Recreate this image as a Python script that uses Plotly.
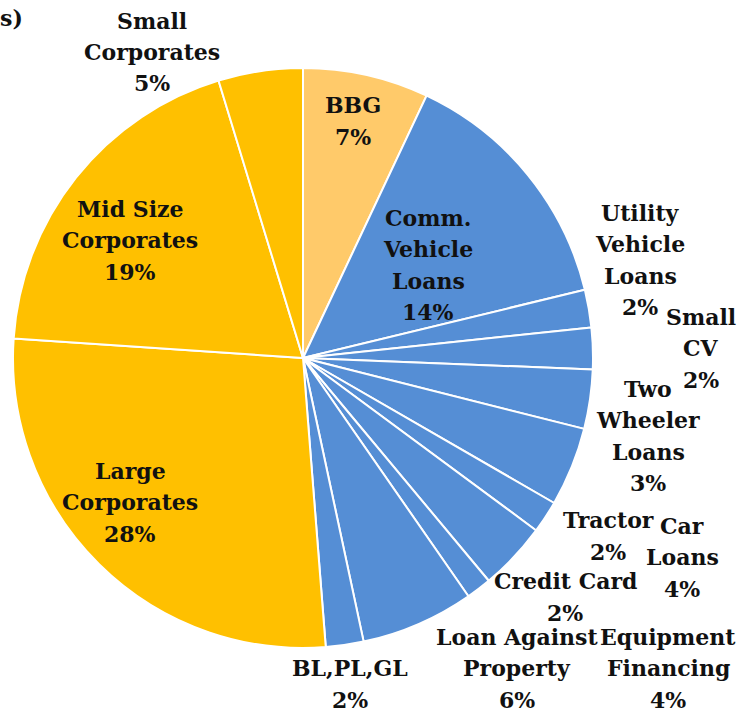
import plotly.graph_objects as go

W, H = 737, 713

# Data (clockwise from 12 o'clock)
segments = ["BBG", "Comm. Vehicle Loans", "Utility Vehicle Loans", "Small CV",
            "Two Wheeler Loans", "Car Loans", "Tractor", "Equipment Financing",
            "Credit Card", "Loan Against Property", "BL,PL,GL",
            "Large Corporates", "Mid Size Corporates", "Small Corporates"]
shares = [7.0, 14.2, 2.1, 2.3, 3.3, 4.4, 1.8, 3.8, 1.4, 6.3, 2.1, 27.3, 19.2, 4.7]
pct_labels = ["7%", "14%", "2%", "2%", "3%", "4%", "2%", "4%", "2%", "6%", "2%",
              "28%", "19%", "5%"]
label_lines = [["BBG"], ["Comm.", "Vehicle", "Loans"], ["Utility", "Vehicle", "Loans"],
               ["Small", "CV"], ["Two", "Wheeler", "Loans"], ["Car", "Loans"], ["Tractor"],
               ["Equipment", "Financing"], ["Credit Card"], ["Loan Against", "Property"],
               ["BL,PL,GL"], ["Large", "Corporates"], ["Mid Size", "Corporates"],
               ["Small", "Corporates"]]

BLUE = "#558ED5"
GOLD = "#FFC000"
colors = ["#FFCA6A"] + [BLUE] * 10 + [GOLD] * 3

# label centres in pixels (x, y from top)
label_pos = [(353, 121), (428, 265), (640, 260), (701, 348), (648, 436),
             (682, 557), (608, 536), (668, 668), (565, 597), (517, 668),
             (350, 684), (130, 502), (130, 240), (152, 52)]
LINE = 31.5

cx, cy, r = 303, 358, 290

fig = go.Figure(go.Pie(
    labels=segments, values=shares,
    sort=False, direction="clockwise", rotation=0,
    marker=dict(colors=colors, line=dict(color="white", width=2)),
    textinfo="none", hoverinfo="label+percent",
    domain=dict(x=[(cx - r) / W, (cx + r) / W],
                y=[(H - cy - r) / H, (H - cy + r) / H]),
))

font = dict(family="DejaVu Serif", size=22, color="#111111")
for name, pct, (px, py) in zip(label_lines, pct_labels, label_pos):
    lines = name + [pct]
    n = len(lines)
    for i, t in enumerate(lines):
        ly = py + (i - (n - 1) / 2) * LINE
        fig.add_annotation(text="<b>%s</b>" % t, x=px / W, y=1 - ly / H,
                           xref="paper", yref="paper", showarrow=False,
                           xanchor="center", yanchor="middle", font=font)

# clipped heading fragment at top-left
fig.add_annotation(text="<b>s)</b>", x=-0.003, y=1 - 18 / H, xref="paper", yref="paper",
                   showarrow=False, xanchor="left", yanchor="middle", font=font)

fig.update_layout(
    width=W, height=H,
    margin=dict(l=0, r=0, t=0, b=0),
    showlegend=False,
    paper_bgcolor="white",
    plot_bgcolor="white",
)

fig.write_html("out.html", config={"displayModeBar": False},
               post_script="document.body.style.margin='0';")
